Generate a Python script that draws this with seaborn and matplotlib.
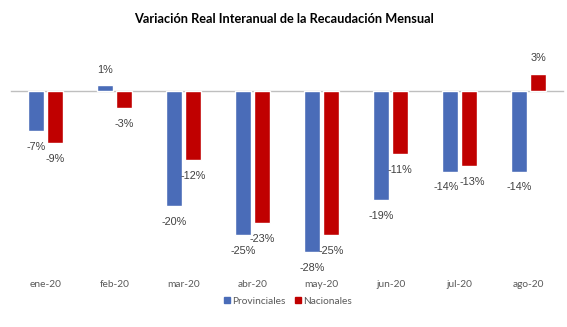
import matplotlib
matplotlib.use("Agg")
import matplotlib.pyplot as plt
from matplotlib.lines import Line2D
import seaborn as sns
import pandas as pd

months = ["ene-20", "feb-20", "mar-20", "abr-20", "may-20", "jun-20", "jul-20", "ago-20"]
provinciales = [-7, 1, -20, -25, -28, -19, -14, -14]
nacionales = [-9, -3, -12, -23, -25, -11, -13, 3]
series = ["Provinciales", "Nacionales"]
colors = ["#4A6CB8", "#C00000"]

df = pd.DataFrame({
    "mes": months * 2,
    "serie": [series[0]] * len(months) + [series[1]] * len(months),
    "valor": provinciales + nacionales,
})

sns.set_style("white")
W, H = 567, 327
fig = plt.figure(figsize=(W / 100, H / 100), dpi=100)

# axes placement in pixels: x from 11 to 563, y-range mapped 59..266
ylo, yhi = -30.5, 5.5
scale = 5.75
top_px = 91 - yhi * scale
bot_px = 91 - ylo * scale
ax = fig.add_axes([11 / W, 1 - bot_px / H, 552 / W, (bot_px - top_px) / H])

sns.barplot(data=df, x="mes", y="valor", hue="serie", order=months,
            hue_order=series, palette=colors, width=0.56, gap=0.17,
            saturation=1, legend=False, ax=ax)

ax.set_xlim(-0.5, len(months) - 0.5)
ax.set_ylim(ylo, yhi)
ax.set_xlabel("")
ax.set_ylabel("")
ax.set_yticks([])
for s in ["top", "right", "left"]:
    ax.spines[s].set_visible(False)

# zero line with boundary ticks
ax.spines["bottom"].set_position(("data", 0))
ax.spines["bottom"].set_color("#BFBFBF")
ax.spines["bottom"].set_linewidth(1.0)
ax.spines["bottom"].set_zorder(0)
ax.set_xticks([i - 0.5 for i in range(len(months) + 1)])
ax.set_xticklabels([])
ax.tick_params(axis="x", length=2.5, width=0.8, color="#BFBFBF", direction="out")

# category labels along the bottom
sec = ax.secondary_xaxis(0)
sec.set_xticks(range(len(months)))
sec.set_xticklabels(months)
sec.tick_params(length=0, pad=10, labelsize=7.3, labelcolor="#595959")
for lab in sec.get_xticklabels():
    lab.set_fontfamily(["Lato", "DejaVu Sans"])
sec.spines["bottom"].set_visible(False)

# value labels just beyond the end of each bar; pairs with nearly equal
# values get pushed apart sideways so they do not collide
for k, (cont, vals) in enumerate(zip(ax.containers, [provinciales, nacionales])):
    for i, (patch, val) in enumerate(zip(cont, vals)):
        xc = patch.get_x() + patch.get_width() / 2
        dy = -11.5 if val < 0 else 11
        dx = 0
        if abs(provinciales[i] - nacionales[i]) <= 1:
            dx = -2.5 if k == 0 else 2.5
        ax.annotate(f"{val:d}%", (xc, val),
                    xytext=(dx, dy), textcoords="offset points",
                    ha="center", va="center", fontsize=7.8, color="#404040",
                    family=["Liberation Sans", "DejaVu Sans"])

fig.text(0.5, 1 - 19 / H, "Variación Real Interanual de la Recaudación Mensual",
         ha="center", va="center", fontsize=9.2, fontweight="bold",
         color="#000000", family=["Lato", "DejaVu Sans"])

handles = [Line2D([], [], marker="s", linestyle="", markersize=5,
                  markerfacecolor=c, markeredgecolor=c) for c in colors]
fig.legend(handles, series, loc="center", bbox_to_anchor=(288 / W, 1 - 301 / H),
           ncol=2, frameon=False, handlelength=0.6, handletextpad=0.2,
           columnspacing=1.0, prop={"family": "Lato", "size": 7.3},
           labelcolor="#595959")

fig.savefig("out.png", dpi=100)
